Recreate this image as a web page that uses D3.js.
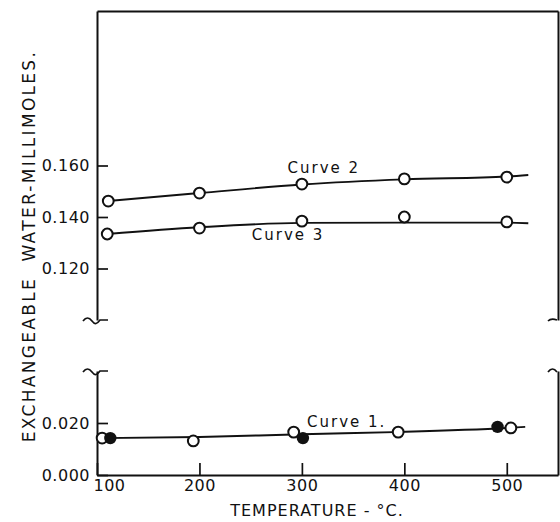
<!DOCTYPE html>
<html>
<head>
<meta charset="utf-8">
<script src="https://cdn.jsdelivr.net/npm/d3@7"></script>
<style>
  body { margin: 0; background: #fff; }
  svg { display: block; }
  text { font-family: "DejaVu Sans", sans-serif; fill: #111; }
</style>
</head>
<body>
<div id="container"></div>
<script>
// readings (temperature in C, exchangeable water in millimoles)
const curve2Temps = [111, 200, 300, 400, 500];
const curve2Values = [0.1462, 0.1493, 0.1528, 0.1548, 0.1555];
const curve2FitTemps = [111, 200, 300, 400, 500, 521];
const curve2FitValues = [0.1462, 0.1493, 0.1526, 0.1546, 0.1557, 0.1563];

const curve3Temps = [110, 200, 300, 400, 500];
const curve3Values = [0.1334, 0.1357, 0.1384, 0.1400, 0.1381];
const curve3FitTemps = [110, 200, 300, 400, 500, 521];
const curve3FitValues = [0.1334, 0.1360, 0.1377, 0.1378, 0.1378, 0.1376];

const curve1OpenTemps = [105, 194, 292, 394, 504];
const curve1OpenValues = [0.0142, 0.0131, 0.0165, 0.0165, 0.0181];
const curve1FilledTemps = [113, 301, 491];
const curve1FilledValues = [0.0142, 0.0142, 0.0185];
const curve1FitTemps = [105, 200, 300, 400, 500, 518];
const curve1FitValues = [0.0142, 0.0146, 0.0157, 0.0166, 0.0181, 0.0185];

const xTicks = [100, 200, 300, 400, 500];
const yHighTicks = [0.12, 0.14, 0.16];
const yLowTicks = [0, 0.02];

const labels = [
  { text: "Curve 2", t: 286, v: 0.1571, anchor: "start" },
  { text: "Curve 3", t: 322, v: 0.1311, anchor: "end" },
  { text: "Curve 1.", t: 305, v: 0.0185, anchor: "start" }
];

const width = 560, height = 522;
const svg = d3.select("#container").append("svg")
  .attr("width", width).attr("height", height);

let x = d3.scaleLinear().domain([100, 550]).range([97, 558]);
let yHigh = d3.scaleLinear().domain([0.1, 0.22]).range([320, 11]);
let yLow = d3.scaleLinear().domain([0, 0.04]).range([475, 371]);

function zip(ts, vs) {
  return ts.map((t, i) => ({ t: t, v: vs[i] }));
}

function styleAxis(g) {
  g.selectAll("path.domain").attr("stroke", "#111").attr("stroke-width", 2);
  g.selectAll(".tick line").attr("stroke", "#111").attr("stroke-width", 1.7);
  g.selectAll(".tick text")
    .style("font-family", "DejaVu Sans, sans-serif")
    .style("font-size", "16px")
    .style("letter-spacing", "0.5px")
    .attr("fill", "#111");
}

// left axis, two pieces
svg.append("g").attr("transform", "translate(97,0)")
  .call(d3.axisLeft(yHigh).tickValues(yHighTicks).tickSize(-11).tickSizeOuter(0)
    .tickPadding(7).tickFormat(d3.format(".3f")))
  .call(styleAxis);
svg.append("g").attr("transform", "translate(97,0)")
  .call(d3.axisLeft(yLow).tickValues(yLowTicks).tickSize(-11).tickSizeOuter(0)
    .tickPadding(7).tickFormat(d3.format(".3f")))
  .call(styleAxis);

// right frame, two pieces
svg.append("g").attr("transform", "translate(558,0)")
  .call(d3.axisRight(yHigh).tickValues([]).tickSizeOuter(0))
  .call(styleAxis);
svg.append("g").attr("transform", "translate(558,0)")
  .call(d3.axisRight(yLow).tickValues([]).tickSizeOuter(0))
  .call(styleAxis);

// top frame
svg.append("g").attr("transform", "translate(0,11)")
  .call(d3.axisTop(x).tickValues([]).tickSizeOuter(0))
  .call(styleAxis);

// bottom axis
let xAxis = svg.append("g").attr("transform", "translate(0,475)")
  .call(d3.axisBottom(x).tickValues(xTicks).tickSize(-12).tickSizeOuter(0).tickPadding(5))
  .call(styleAxis);
xAxis.selectAll(".tick text").filter((d) => d === 100).attr("dx", 12);

// break marks
function wiggle(cx, cy, dir) {
  let s = dir;
  return `M${cx - 14 * s},${cy + 1} c${3 * s},-4 ${6 * s},-4 ${9 * s},0 ` +
    `s${5 * s},3 ${8 * s},-1 l${8 * s},0`;
}
let breaks = svg.append("g").attr("fill", "none").attr("stroke", "#111").attr("stroke-width", 1.7);
breaks.append("path").attr("d", wiggle(x(100), yHigh(0.1), 1));
breaks.append("path").attr("d", wiggle(x(100), yLow(0.04), 1));
breaks.append("path").attr("d", `M${x(550) - 10},${yHigh(0.1) + 1} c3,-3 6,-2 9,-1`);
breaks.append("path").attr("d", `M${x(550) - 10},${yLow(0.04) + 1} c3,-4 6,-4 9,0`);

// fitted curves
let lineHigh = d3.line().x((d) => x(d.t)).y((d) => yHigh(d.v)).curve(d3.curveMonotoneX);
let lineLow = d3.line().x((d) => x(d.t)).y((d) => yLow(d.v)).curve(d3.curveMonotoneX);

let curves = svg.append("g").attr("fill", "none").attr("stroke", "#111").attr("stroke-width", 1.9);
curves.append("path").attr("d", lineHigh(zip(curve2FitTemps, curve2FitValues)));
curves.append("path").attr("d", lineHigh(zip(curve3FitTemps, curve3FitValues)));
curves.append("path").attr("d", lineLow(zip(curve1FitTemps, curve1FitValues)));

// points
function openPoints(data, y) {
  svg.append("g").selectAll("circle").data(data).enter().append("circle")
    .attr("cx", (d) => x(d.t))
    .attr("cy", (d) => y(d.v))
    .attr("r", 5.4)
    .attr("fill", "#fff")
    .attr("stroke", "#111")
    .attr("stroke-width", 2);
}
openPoints(zip(curve2Temps, curve2Values), yHigh);
openPoints(zip(curve3Temps, curve3Values), yHigh);
openPoints(zip(curve1OpenTemps, curve1OpenValues), yLow);

svg.append("g").selectAll("circle").data(zip(curve1FilledTemps, curve1FilledValues)).enter()
  .append("circle")
  .attr("cx", (d) => x(d.t))
  .attr("cy", (d) => yLow(d.v))
  .attr("r", 6.2)
  .attr("fill", "#111");

// curve labels
svg.append("g").selectAll("text").data(labels).enter().append("text")
  .attr("x", (d) => x(d.t))
  .attr("y", (d) => (d.v > 0.05 ? yHigh(d.v) : yLow(d.v)))
  .attr("text-anchor", (d) => d.anchor)
  .style("font-size", "15px")
  .style("letter-spacing", "2px")
  .text((d) => d.text);

// axis titles
svg.append("text")
  .attr("x", 317).attr("y", 516)
  .attr("text-anchor", "middle")
  .style("font-size", "16px")
  .style("letter-spacing", "1px")
  .text("TEMPERATURE - °C.");

svg.append("text")
  .attr("transform", "translate(35,246) rotate(-90)")
  .attr("text-anchor", "middle")
  .style("font-size", "17px")
  .style("letter-spacing", "2.3px")
  .style("white-space", "pre")
  .text("EXCHANGEABLE  WATER-MILLIMOLES.");
</script>
</body>
</html>
